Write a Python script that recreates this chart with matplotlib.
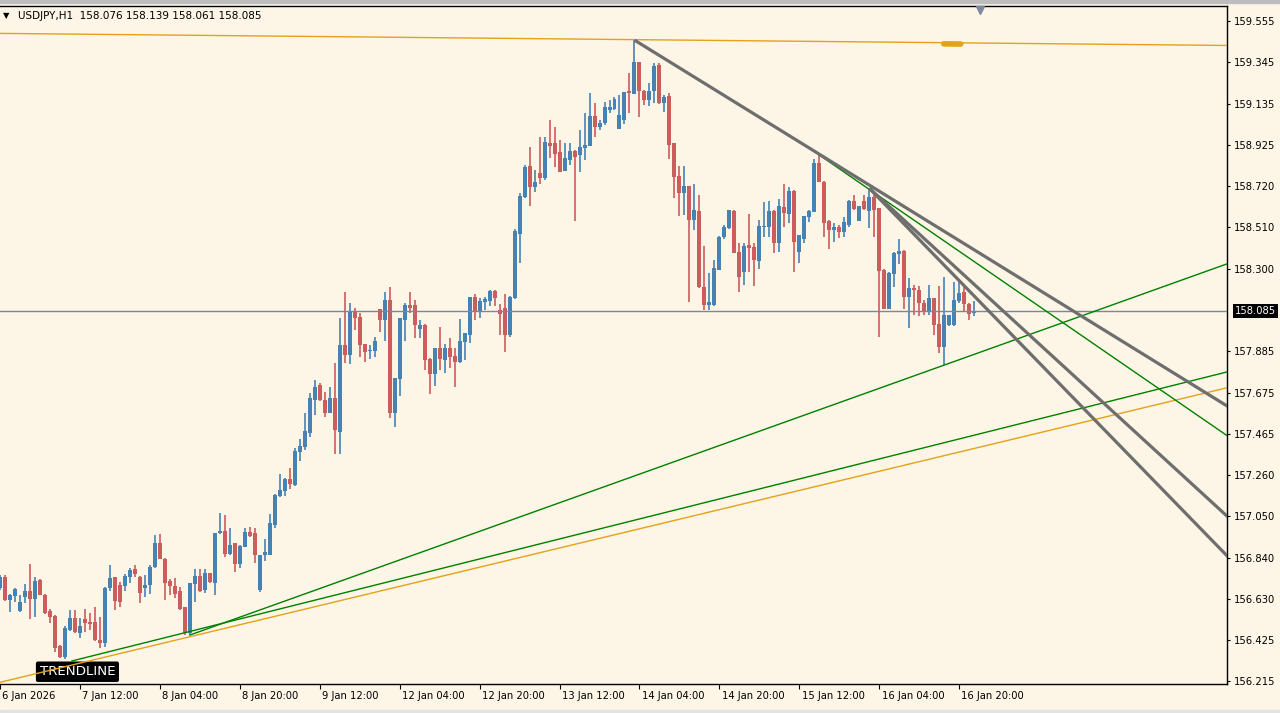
import matplotlib
matplotlib.use("Agg")
import matplotlib.pyplot as plt
import numpy as np
from matplotlib.transforms import blended_transform_factory

# USDJPY H1 bars, 6 Jan 20:00 .. 16 Jan 23:00 (weekend hours skipped)
opens = [156.685, 156.740, 156.626, 156.646, 156.572, 156.639, 156.673, 156.631, 156.727, 156.651,
         156.572, 156.545, 156.393, 156.339, 156.474, 156.533, 156.457, 156.530, 156.516, 156.516,
         156.423, 156.407, 156.685, 156.740, 156.701, 156.698, 156.744, 156.781, 156.740, 156.688,
         156.701, 156.794, 156.915, 156.836, 156.722, 156.696, 156.673, 156.589, 156.457, 156.706,
         156.748, 156.677, 156.761, 156.714, 156.963, 156.977, 156.859, 156.913, 156.808, 156.896,
         156.968, 156.963, 156.677, 156.854, 156.854, 157.006, 157.152, 157.179, 157.240, 157.208,
         157.375, 157.398, 157.472, 157.637, 157.713, 157.637, 157.573, 157.646, 157.477, 157.915,
         157.865, 158.080, 158.055, 157.920, 157.885, 157.885, 158.095, 158.041, 158.142, 157.570,
         157.746, 158.041, 158.120, 158.120, 157.996, 158.016, 157.847, 157.768, 157.898, 157.839,
         157.898, 157.859, 157.831, 157.932, 157.965, 158.156, 158.088, 158.134, 158.139, 158.189,
         158.092, 158.105, 157.965, 158.152, 158.477, 158.662, 158.821, 158.716, 158.787, 158.758,
         158.938, 158.935, 158.893, 158.797, 158.851, 158.898, 158.876, 158.910, 158.922, 159.073,
         159.016, 159.036, 159.104, 159.107, 159.006, 159.053, 159.201, 159.184, 159.345, 159.201,
         159.154, 159.201, 159.331, 159.137, 159.174, 158.935, 158.770, 158.682, 158.719, 158.548,
         158.595, 158.211, 158.118, 158.118, 158.295, 158.463, 158.505, 158.595, 158.388, 158.286,
         158.421, 158.409, 158.342, 158.511, 158.511, 158.595, 158.433, 158.612, 158.578, 158.696,
         158.388, 158.450, 158.561, 158.590, 158.834, 158.741, 158.544, 158.497, 158.511, 158.489,
         158.522, 158.645, 158.544, 158.645, 158.595, 158.662, 158.606, 158.297, 158.100, 158.274,
         158.375, 158.392, 158.159, 158.206, 158.193, 158.129, 158.088, 158.151, 158.021, 157.903,
         158.016, 158.016, 158.139, 158.184, 158.122, 158.076]
highs = [156.752, 156.752, 156.659, 156.685, 156.651, 156.706, 156.808, 156.744, 156.730, 156.656,
         156.583, 156.550, 156.398, 156.494, 156.578, 156.578, 156.533, 156.583, 156.558, 156.589,
         156.541, 156.690, 156.803, 156.744, 156.718, 156.760, 156.789, 156.803, 156.747, 156.752,
         156.803, 156.954, 156.959, 156.840, 156.730, 156.735, 156.693, 156.592, 156.712, 156.781,
         156.781, 156.781, 156.765, 156.966, 157.068, 157.056, 156.989, 156.915, 156.902, 156.992,
         156.997, 156.989, 156.855, 156.933, 157.061, 157.160, 157.263, 157.243, 157.292, 157.393,
         157.439, 157.573, 157.671, 157.739, 157.722, 157.680, 157.705, 157.823, 158.050, 158.185,
         158.126, 158.105, 158.075, 157.923, 157.915, 157.957, 158.100, 158.184, 158.210, 157.751,
         158.052, 158.126, 158.184, 158.142, 158.041, 158.024, 157.850, 157.898, 158.007, 157.920,
         157.949, 157.898, 158.045, 157.974, 158.156, 158.173, 158.151, 158.159, 158.196, 158.192,
         158.122, 158.173, 158.163, 158.500, 158.686, 158.826, 158.915, 158.800, 158.969, 158.969,
         159.053, 159.019, 158.952, 158.939, 158.935, 158.900, 159.003, 159.087, 159.191, 159.141,
         159.053, 159.146, 159.154, 159.171, 159.179, 159.196, 159.292, 159.457, 159.347, 159.203,
         159.238, 159.340, 159.343, 159.179, 159.188, 158.937, 158.821, 158.821, 158.720, 158.730,
         158.674, 158.416, 158.278, 158.345, 158.465, 158.522, 158.600, 158.598, 158.430, 158.430,
         158.578, 158.430, 158.548, 158.640, 158.645, 158.597, 158.652, 158.730, 158.716, 158.698,
         158.474, 158.570, 158.597, 158.854, 158.876, 158.743, 158.546, 158.531, 158.522, 158.564,
         158.647, 158.674, 158.620, 158.674, 158.708, 158.674, 158.608, 158.299, 158.283, 158.384,
         158.449, 158.394, 158.252, 158.218, 158.213, 158.142, 158.218, 158.153, 158.212, 158.260,
         158.069, 158.235, 158.235, 158.213, 158.129, 158.139]
lows = [156.676, 156.622, 156.567, 156.617, 156.567, 156.609, 156.528, 156.541, 156.649, 156.555,
        156.508, 156.364, 156.331, 156.326, 156.471, 156.457, 156.432, 156.466, 156.474, 156.420,
        156.381, 156.390, 156.673, 156.575, 156.589, 156.673, 156.710, 156.744, 156.612, 156.642,
        156.659, 156.790, 156.832, 156.626, 156.651, 156.634, 156.575, 156.449, 156.449, 156.617,
        156.669, 156.660, 156.714, 156.652, 156.958, 156.845, 156.855, 156.770, 156.786, 156.893,
        156.947, 156.815, 156.669, 156.825, 156.852, 156.989, 157.149, 157.152, 157.186, 157.203,
        157.331, 157.385, 157.452, 157.563, 157.634, 157.550, 157.570, 157.364, 157.364, 157.823,
        157.820, 157.990, 157.856, 157.831, 157.847, 157.853, 157.982, 157.937, 157.544, 157.502,
        157.657, 157.937, 158.075, 157.949, 157.949, 157.789, 157.667, 157.708, 157.789, 157.772,
        157.797, 157.704, 157.826, 157.839, 157.927, 158.041, 158.050, 158.092, 158.112, 158.112,
        157.965, 157.881, 157.957, 158.150, 158.329, 158.660, 158.618, 158.691, 158.730, 158.750,
        158.859, 158.814, 158.790, 158.795, 158.826, 158.544, 158.792, 158.851, 158.920, 158.969,
        159.003, 159.028, 159.087, 159.105, 159.006, 159.033, 159.087, 159.184, 159.067, 159.129,
        159.124, 159.141, 159.135, 159.095, 158.854, 158.657, 158.568, 158.575, 158.135, 158.497,
        158.205, 158.093, 158.093, 158.115, 158.293, 158.450, 158.503, 158.380, 158.185, 158.219,
        158.286, 158.214, 158.298, 158.463, 158.463, 158.382, 158.388, 158.511, 158.531, 158.286,
        158.332, 158.430, 158.539, 158.588, 158.739, 158.463, 158.399, 158.438, 158.455, 158.463,
        158.511, 158.600, 158.542, 158.600, 158.505, 158.463, 157.957, 158.098, 158.096, 158.210,
        158.324, 158.095, 158.000, 158.067, 158.062, 158.067, 158.067, 157.965, 157.876, 157.814,
        158.014, 158.014, 158.126, 158.088, 158.041, 158.061]
closes = [156.744, 156.626, 156.651, 156.680, 156.617, 156.673, 156.631, 156.722, 156.651, 156.558,
          156.538, 156.386, 156.339, 156.487, 156.533, 156.462, 156.494, 156.508, 156.504, 156.423,
          156.407, 156.685, 156.735, 156.622, 156.617, 156.747, 156.777, 156.760, 156.663, 156.701,
          156.794, 156.915, 156.836, 156.713, 156.696, 156.659, 156.583, 156.457, 156.710, 156.747,
          156.674, 156.761, 156.719, 156.963, 156.977, 156.859, 156.904, 156.808, 156.899, 156.968,
          156.950, 156.854, 156.852, 156.867, 157.014, 157.157, 157.182, 157.240, 157.211, 157.380,
          157.405, 157.481, 157.646, 157.701, 157.637, 157.573, 157.646, 157.486, 157.915, 157.865,
          158.080, 158.050, 157.915, 157.881, 157.890, 157.935, 158.041, 158.142, 157.570, 157.751,
          158.050, 158.120, 158.105, 158.016, 158.016, 157.839, 157.768, 157.898, 157.847, 157.898,
          157.853, 157.831, 157.937, 157.974, 158.156, 158.088, 158.139, 158.146, 158.189, 158.151,
          158.072, 157.965, 158.160, 158.494, 158.669, 158.814, 158.716, 158.741, 158.758, 158.944,
          158.922, 158.881, 158.792, 158.859, 158.898, 158.868, 158.918, 158.927, 159.073, 159.019,
          159.040, 159.117, 159.117, 159.158, 159.078, 159.196, 159.188, 159.345, 159.201, 159.154,
          159.201, 159.326, 159.137, 159.171, 158.927, 158.763, 158.682, 158.719, 158.548, 158.598,
          158.211, 158.118, 158.135, 158.303, 158.463, 158.511, 158.598, 158.382, 158.261, 158.416,
          158.404, 158.345, 158.517, 158.517, 158.595, 158.433, 158.618, 158.581, 158.696, 158.438,
          158.472, 158.568, 158.595, 158.834, 158.741, 158.534, 158.497, 158.511, 158.489, 158.539,
          158.645, 158.602, 158.618, 158.602, 158.662, 158.598, 158.291, 158.100, 158.281, 158.382,
          158.392, 158.159, 158.206, 158.193, 158.129, 158.088, 158.151, 158.016, 157.903, 158.067,
          158.067, 158.142, 158.179, 158.122, 158.072, 158.085]

last_price = 158.085
header = "USDJPY,H1  158.076 158.139 158.061 158.085"

price_labels = ["159.555", "159.345", "159.135", "158.925", "158.720", "158.510", "158.300",
                "157.885", "157.675", "157.465", "157.260", "157.050", "156.840", "156.630",
                "156.425", "156.215"]
time_ticks = [0, 16, 32, 48, 64, 80, 96, 112, 128, 144, 160, 176, 192]
time_labels = ["6 Jan 2026", "7 Jan 12:00", "8 Jan 04:00", "8 Jan 20:00", "9 Jan 12:00",
               "12 Jan 04:00", "12 Jan 20:00", "13 Jan 12:00", "14 Jan 04:00", "14 Jan 20:00",
               "15 Jan 12:00", "16 Jan 04:00", "16 Jan 20:00"]

# trend lines as rays: (bar1, price1, bar2, price2)
grey_lines = [(127, 159.457, 164, 158.880),
              (174, 158.708, 245.4, 157.055),
              (174, 158.708, 245.4, 156.855)]
green_lines = [(164, 158.876, 245.4, 157.461),
               (38, 156.449, 189, 157.814),
               (14.4, 156.318, 245.4, 157.778)]
orange_lines = [(0, 156.210, 245.4, 157.698),
                (0, 159.491, 245.4, 159.430)]

BG = "#FDF5E6"
UP = "#4682B4"
DOWN = "#CD5C5C"
XMIN, XMAX = 0.2, 245.54
YMIN, YMAX = 156.204, 159.631

fig = plt.figure(figsize=(12.8, 7.13), dpi=100, facecolor=BG)
ax = fig.add_axes([0, 29.5 / 713, 1226.7 / 1280, 677.8 / 713])
ax.set_facecolor(BG)

x = np.arange(len(opens))
o = np.array(opens)
c = np.array(closes)
colors = [UP if cc >= oo else DOWN for oo, cc in zip(o, c)]
ax.vlines(x, lows, highs, colors=colors, linewidth=1.2, zorder=2)
bottom = np.minimum(o, c)
height = np.maximum(np.abs(c - o), 0.006)
ax.bar(x, height, bottom=bottom, width=0.8, color=colors, linewidth=0, zorder=3)

ax.axhline(last_price, color="#778899", linewidth=1, zorder=4)


def ray(ln, **kw):
    b1, p1, b2, p2 = ln
    xs = np.array([b1, XMAX + 1])
    ys = p1 + (p2 - p1) / (b2 - b1) * (xs - b1)
    ax.plot(xs, ys, **kw)


for ln in orange_lines:
    ray(ln, color="#E3A21A", linewidth=1, zorder=5)
for ln in green_lines:
    ray(ln, color="#008000", linewidth=1, zorder=5)
for ln in grey_lines:
    ray(ln, color="#6E6E6E", linewidth=2.3, zorder=6, solid_capstyle="butt")

# orange handle on the top line
b1, p1, b2, p2 = orange_lines[1]
hx = np.array([188.9, 192.3])
ax.plot(hx, p1 + (p2 - p1) / (b2 - b1) * (hx - b1) - 0.006, color="#E3A21A",
        linewidth=4, solid_capstyle="round", zorder=6)

ax.set_xlim(XMIN, XMAX)
ax.set_ylim(YMIN, YMAX)

for side in ["top", "right", "bottom"]:
    ax.spines[side].set_color("black")
    ax.spines[side].set_linewidth(1)
ax.spines["left"].set_visible(False)

ax.yaxis.tick_right()
ax.set_yticks([float(v) for v in price_labels])
ax.set_yticklabels(price_labels)
ax.tick_params(axis="y", direction="out", length=2.5, width=0.8, pad=3, labelsize=7.2,
               colors="black")
ax.set_xticks(time_ticks)
ax.tick_params(axis="x", direction="out", length=3.5, width=0.8, labelbottom=False)

xt = ax.get_xaxis_transform()
for t, lab in zip(time_ticks, time_labels):
    ax.text(t + 0.45, -0.0185, lab, transform=xt, ha="left", va="center", fontsize=7.2,
            clip_on=False)

# current price box on the price scale
bt = blended_transform_factory(ax.transAxes, ax.transData)
ax.text(1 + 8 / 1226.7, last_price, f"{last_price:.3f}", transform=bt, ha="left", va="center",
        fontsize=7.2, color="white", clip_on=False,
        bbox=dict(boxstyle="square,pad=0.2", fc="black", ec="none"))

# header
ax.text(2.5 / 1226.7, 0.9848, "\u25bc", transform=ax.transAxes, ha="left", va="center",
        fontsize=6, color="black")
ax.text(18 / 1226.7, 0.9848, header, transform=ax.transAxes, ha="left", va="center",
        fontsize=7.5, color="black")

# chart shift marker
ax.plot([196.2], [1 - 3.8 / 677.8], transform=xt, marker="v", markersize=6,
        color="#7B8AA0", clip_on=False, zorder=7)

# object label
ax.text(15.5, 156.2635, "TRENDLINE", ha="center", va="center", fontsize=9.6, color="white",
        zorder=4, bbox=dict(boxstyle="round,pad=0.28,rounding_size=0.15", fc="black", ec="none"))

# window frame bands
fig.add_artist(plt.Rectangle((0, 1 - 3 / 713), 1, 3 / 713, transform=fig.transFigure,
                             color="#BDBDBD", zorder=0))
fig.add_artist(plt.Rectangle((0, 0), 1, 3 / 713, transform=fig.transFigure,
                             color="#E3E3E3", zorder=0))

fig.savefig("out.png", dpi=100, facecolor=BG)
